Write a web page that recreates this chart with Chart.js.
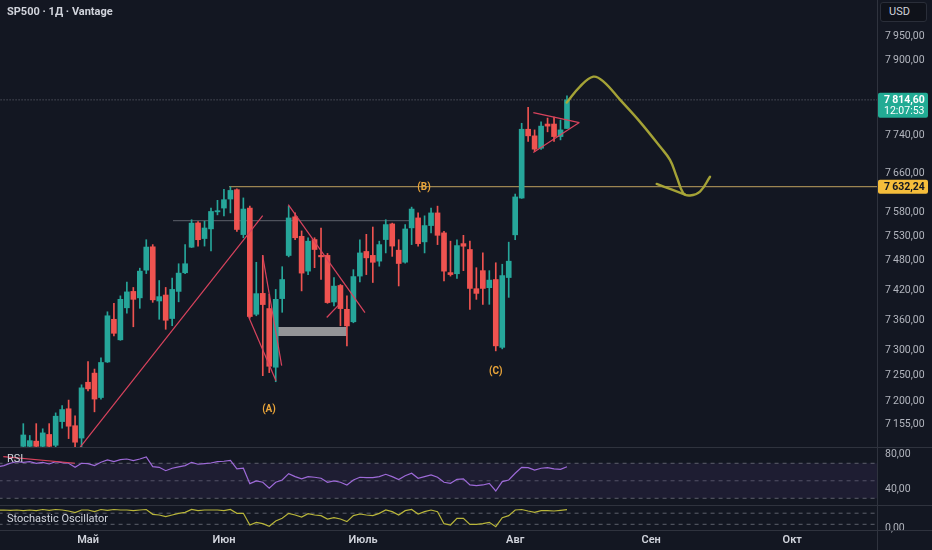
<!DOCTYPE html>
<html><head><meta charset="utf-8">
<script src="https://cdn.jsdelivr.net/npm/chart.js@4.4.1/dist/chart.umd.min.js"></script>
<style>
html,body{margin:0;padding:0;background:#131722;}
body{width:932px;height:550px;position:relative;overflow:hidden;font-family:Roboto,"Noto Sans",sans-serif;}
canvas{position:absolute;left:0;}
.lbl{position:absolute;color:#d1d4dc;font-size:11px;white-space:nowrap;line-height:13px;}
#usd{position:absolute;left:880px;top:2px;width:47px;height:20px;border:1px solid #2a2e39;border-radius:3px;background:#0f121a;color:#d1d4dc;font-size:11px;line-height:18px;box-sizing:border-box;padding-left:8px;}
</style></head>
<body>
<canvas id="cPrice" width="932" height="447" style="top:0"></canvas>
<canvas id="cRsi" width="932" height="58" style="top:447px"></canvas>
<canvas id="cStoch" width="932" height="45" style="top:505px"></canvas>
<div class="lbl" style="left:7px;top:5px;font-weight:700;">SP500 · 1Д · Vantage</div>
<div class="lbl" style="left:7px;top:452px;">RSI</div>
<div class="lbl" style="left:7px;top:512px;">Stochastic Oscillator</div>
<div id="usd">USD</div>
<script>
// ---------------- DATA ----------------
const opens = [7112,7112,7122,7112,7135,7114,7160,7185,7152,7128,
  7237,7255,7207,7277,7362,7321,7385,7418,7405,7461,
  7508.5,7398.7,7410.7,7363.5,7418,7455.7,7507.7,7557.4,7525.4,7545.2,
  7580.2,7588,7606.7,7626,7533.5,7588,7372,7414,7383.5,7266.6,
  7403.5,7490.8,7570,7530,7459,7523.3,7491,7491,7396.7,7430,
  7382,7357,7449,7499,7491,7479.3,7523.3,7555.4,7501.6,7477.2,
  7547.3,7567.7,7518.6,7552,7578,7537,7456,7453.7,7515,7503,
  7423.5,7460,7425.5,7442,7306,7446,7533,7608.7,7752.4,7738.5,
  7712.5,7763.4,7763.4,7737,7754];
const highs = [7156,7133,7156,7146,7156,7177,7191,7202,7171,7232,
  7278,7263,7285,7377,7394,7409,7437,7426,7465,7523,
  7513,7440,7426,7445,7474,7513,7564,7560,7561,7588,
  7604,7627,7632,7628,7609,7592,7477,7491,7412,7422,
  7468,7592,7578,7541,7527,7527,7547,7495,7446,7432,
  7409,7462,7523,7534,7549,7520,7564,7557,7523,7554,
  7590,7578,7572,7588,7592,7540,7520,7523,7532,7520,
  7466,7496,7460,7476,7473,7518,7617,7765,7799,7751,
  7768,7776,7778,7772,7823];
const lows = [7108,7108,7108,7108,7108,7110,7147,7127,7110,7110,
  7220,7179,7204,7276,7329,7320,7374,7347,7384,7454,
  7396,7362,7342,7349,7397,7454,7507,7510,7510,7500,
  7574,7572,7578,7540,7527,7364,7369,7250,7256,7238,
  7376,7488,7523,7419,7452,7466,7442,7394,7389,7349,
  7309,7355,7437,7452,7436,7469,7496,7489,7429,7475,
  7513,7510,7496,7537,7513,7439,7449,7444,7460,7382,
  7402,7392,7392,7299,7303,7406,7523,7608,7727,7706,
  7710,7747,7727,7730,7754];
const closes = [7134,7123,7112,7138,7112,7170.5,7183.5,7151,7120,7226,
  7224,7204,7276,7369,7334,7402,7417,7402,7459,7508,
  7401,7407.5,7360,7422,7455,7474,7557,7523,7547,7581,
  7582.6,7605.3,7624.5,7544,7586,7367.5,7413.5,7391.5,7268.5,7402,
  7442,7567.7,7527,7455,7520,7503,7488,7395.5,7428.7,7383.4,
  7348.7,7448,7496,7486,7477,7513,7554,7510,7474.5,7545,
  7586,7515,7552,7578,7532,7459,7452,7511,7509.7,7424,
  7414,7424,7440.8,7309,7450,7479.2,7611,7752.4,7738.5,7710.5,
  7759,7759,7737,7751,7814.6];

const lastPrice = 7814.60;
const lastTime = '12:07:53';
const levelPrice = 7632.24;
const levelStart = 31.8;
const greyLevel = 7562; const greyFrom = 23.13; const greyTo = 59.75;

const priceTicks = [7155,7200,7250,7300,7360,7420,7480,7530,7580,7660,7740,7900,7950];

// indicator series start at bar index -4
const indStart = -4;
const rsi = [66.0,67.3,70.0,71.9,
  71.1,71.9,70.0,71.1,69.2,71.9,70.7,70.0,65.4,70.0,
  69.6,67.3,71.1,73.8,71.9,74.1,74.9,73.0,74.9,77.2,
  66.1,65.4,61.5,64.3,65.8,67.3,71.1,68.9,69.6,70.3,
  71.9,72.3,73.4,63.5,64.3,46.7,49.8,48.3,41.4,48.3,
  50.9,58.1,54.7,52.1,54.7,54.0,52.9,48.3,49.8,48.3,
  45.2,50.9,54.0,53.6,53.6,54.7,57.4,54.7,51.3,55.8,
  58.6,52.9,54.7,56.6,54.0,48.3,47.1,51.7,52.1,45.2,
  44.4,45.2,47.1,38.3,49.0,50.9,58.6,65.4,65.0,62.3,
  64.3,65.0,63.5,63.1,66.1];
const stoch = [97.0,97.3,95.5,97.3,
  93.7,97.3,93.7,100,95.5,100,97.3,91.9,82.9,97.3,
  97.3,88.3,100,95.5,100,97.3,97.3,93.7,97.3,100,
  73.9,70.3,61.3,70.3,79.3,84.7,100,93.7,97.3,97.3,
  97.3,93.7,100,79.3,79.3,16.2,30.6,23.4,9.0,37.8,
  52.3,79.3,70.3,59.5,77.5,70.3,66.7,48.6,55.9,48.6,
  34.2,66.7,75.7,70.3,66.7,79.3,97.3,88.3,70.3,93.7,
  100,75.7,88.3,97.3,88.3,23.4,16.2,52.3,52.3,19.8,
  19.8,23.4,30.6,7.2,55.9,66.7,97.3,100,91.9,84.7,
  93.7,93.7,91.9,95.5,99.1];
const rsiTicks = [80,40];
const rsiLevels = [70,50,30];
const stochTicks = [0];
const stochLevels = [80,20];

const monthNames = ['Май','Июн','Июль','Авг','Сен','Окт'];
const monthPos = [10,31,52.5,76,97,118.8];

// drawings (bar index, price)
const trendUp = [[8.45,7105],[36.99,7572.4]];
const wedgeA = [[34.76,7368.7],[39.04,7240]];
const wedgeB = [[36.99,7489.4],[39.92,7269.8]];
const descLine = [[40.94,7595],[52.79,7375.5]];
const shortLine = [[46.88,7365.5],[48.67,7390]];
const boxRange = [[39.24,7337.7],[49.97,7337.7]];
const triUpper = [[78.80,7787.7],[85.90,7766.5]];
const triLower = [[78.80,7703.4],[85.90,7766.5]];
const curveMain = [[83.96,7809],[86.01,7843],[88.07,7864],[89.61,7854],[92.19,7815],[95.28,7768],[98.37,7716],[99.92,7688],[100.95,7653],[101.97,7619],[103.01,7614],[104.55,7622],[106.10,7653]];
const curveTail = [[97.86,7638],[100.23,7626],[102.23,7616]];
const waveLabels = ['(A)','(B)','(C)'];
const waveX = [37.96,61.91,72.99];
const waveY = [7182.8,7630,7259];
const rsiTrend = [[-3.09,77.5],[7.99,70.0]];

// ---------------- HELPERS ----------------
const X_MIN = -3.6, X_MAX = 131.9;
const UP = '#26a69a', DOWN = '#ef5350';
const FONT = 'Roboto, "Noto Sans", sans-serif';
function fmt(v){
  const s = Number(v).toFixed(2).split('.');
  let int = s[0];
  if (int.length > 3) int = int.slice(0, int.length-3) + '\u2009' + int.slice(-3);
  return int + ',' + s[1];
}
const pts = arr => arr.map(p => ({x:p[0], y:p[1]}));
function lineDs(arr, color, width, extra){
  return Object.assign({type:'line', data:pts(arr), borderColor:color, borderWidth:width,
    pointRadius:0, fill:false, tension:0, order:-1}, extra||{});
}
const idx = opens.map((_, k) => k);
const candleColors = idx.map(k => closes[k] >= opens[k] ? UP : DOWN);
Chart.defaults.animation = false;
Chart.defaults.font.family = FONT;

function yAxisCommon(){
  return {position:'right', grid:{display:false, drawTicks:false}, border:{display:false},
    afterFit: s => { s.width = 55; s.paddingTop = 0; s.paddingBottom = 0; },
    ticks:{color:'#b2b5be', padding:8, font:{size:10.5}, autoSkip:false, callback: v => fmt(v)}};
}
const sepPlugin = {
  id:'sep',
  afterDraw(chart, args, opts){
    const c = chart.ctx;
    c.save();
    c.strokeStyle = '#2f333e'; c.lineWidth = 1;
    c.beginPath();
    c.moveTo(877.5, 0); c.lineTo(877.5, chart.height);
    if (opts.top){ c.moveTo(0, 0.5); c.lineTo(chart.width, 0.5); }
    if (opts.bottom){ const b = Math.round(chart.chartArea.bottom)+0.5; c.moveTo(0, b); c.lineTo(chart.width, b); }
    c.stroke(); c.restore();
  }
};

// ---------------- PRICE CHART ----------------
const priceOverlay = {
  id:'priceOverlay',
  afterDraw(chart){
    const c = chart.ctx, x = chart.scales.x, y = chart.scales.y;
    c.save();
    c.font = '700 10px ' + FONT; c.fillStyle = '#eaa53a';
    c.textAlign = 'center'; c.textBaseline = 'middle';
    waveLabels.forEach((t,k) => c.fillText(t, x.getPixelForValue(waveX[k]), y.getPixelForValue(waveY[k])));
    // last price box
    const yl = y.getPixelForValue(lastPrice);
    c.fillStyle = '#22ab94';
    c.beginPath(); c.roundRect(878, yl-7, 50, 25, 2); c.fill();
    c.fillStyle = '#ffffff'; c.textAlign = 'left';
    c.font = '700 10.5px ' + FONT; c.fillText(fmt(lastPrice), 884, yl+0.5);
    c.font = '400 10.5px ' + FONT; c.fillText(lastTime, 884, yl+11.5);
    // level box
    const yv = y.getPixelForValue(levelPrice);
    c.fillStyle = '#f5bd3b';
    c.beginPath(); c.roundRect(878, yv-7, 50, 14, 2); c.fill();
    c.fillStyle = '#131722'; c.font = '700 10.5px ' + FONT;
    c.fillText(fmt(levelPrice), 884, yv+0.5);
    c.restore();
  }
};

new Chart(document.getElementById('cPrice'), {
  type:'bar',
  data:{datasets:[
    {data: idx.map(k => ({x:k, y:[opens[k], closes[k]]})), backgroundColor:candleColors,
     barThickness:5, grouped:false, order:1, minBarLength:1},
    {data: idx.map(k => ({x:k, y:[lows[k], highs[k]]})), backgroundColor:candleColors,
     barThickness:1, grouped:false, order:2},
    lineDs([[-10,lastPrice],[140,lastPrice]], '#6a6d78', 1, {borderDash:[1,2], order:5}),
    lineDs([[levelStart,levelPrice],[140,levelPrice]], '#9c8552', 1.2, {order:5}),
    lineDs([[greyFrom,greyLevel],[greyTo,greyLevel]], '#5d606b', 1, {order:5}),
    lineDs(boxRange, 'rgba(170,170,172,0.85)', 9, {order:4, borderCapStyle:'butt'}),
    lineDs(trendUp, '#d9435d', 1.2),
    lineDs(wedgeA, '#d9435d', 1.2),
    lineDs(wedgeB, '#d9435d', 1.2),
    lineDs(descLine, '#d9435d', 1.2),
    lineDs(shortLine, '#d9435d', 1.2),
    lineDs(triUpper, '#d9435d', 1.2),
    lineDs(triLower, '#d9435d', 1.2),
    lineDs(curveMain, 'rgba(172,170,56,0.95)', 2.4, {tension:0.4, borderCapStyle:'round', borderJoinStyle:'round', order:-2}),
    lineDs(curveTail, 'rgba(172,170,56,0.95)', 2.4, {tension:0.4, borderCapStyle:'round', order:-2})
  ]},
  options:{
    responsive:false, layout:{padding:0},
    plugins:{legend:{display:false}, tooltip:{enabled:false}, sep:{top:false}},
    scales:{
      x:{type:'linear', min:X_MIN, max:X_MAX, display:false, offset:false},
      y:Object.assign(yAxisCommon(), {type:'logarithmic', min:7110.7, max:8029.7,
        afterBuildTicks: s => { s.ticks = priceTicks.map(v => ({value:v})); }})
    }
  },
  plugins:[sepPlugin, priceOverlay]
});

// ---------------- RSI CHART ----------------
const indX = rsi.map((_, k) => indStart + k);
function levelDs(v, color, fillTarget, bg){
  return {type:'line', data:[{x:-10,y:v},{x:140,y:v}], borderColor:color, borderWidth:1,
    borderDash:[4,4], pointRadius:0, fill:fillTarget||false, backgroundColor:bg||'transparent', order:5};
}
new Chart(document.getElementById('cRsi'), {
  type:'line',
  data:{datasets:[
    levelDs(rsiLevels[0], '#5d606b'),
    levelDs(rsiLevels[2], '#5d606b', '-1', 'rgba(126,87,194,0.10)'),
    levelDs(rsiLevels[1], '#4f525c'),
    {data: indX.map((xv,k) => ({x:xv, y:rsi[k]})), borderColor:'#9e6ad8', borderWidth:1.2, pointRadius:0, order:1},
    lineDs(rsiTrend, '#d9435d', 1.2)
  ]},
  options:{
    responsive:false, layout:{padding:0},
    plugins:{legend:{display:false}, tooltip:{enabled:false}, sep:{top:true}},
    scales:{
      x:{type:'linear', min:X_MIN, max:X_MAX, display:false},
      y:Object.assign(yAxisCommon(), {type:'linear', min:22.3, max:88.6,
        afterBuildTicks: s => { s.ticks = rsiTicks.map(v => ({value:v})); }})
    }
  },
  plugins:[sepPlugin]
});

// ---------------- STOCH CHART ----------------
new Chart(document.getElementById('cStoch'), {
  type:'line',
  data:{datasets:[
    levelDs(stochLevels[0], '#5d606b'),
    levelDs(stochLevels[1], '#5d606b'),
    {data: indX.map((xv,k) => ({x:xv, y:stoch[k]})), borderColor:'#b8b53a', borderWidth:1.2, pointRadius:0, order:1}
  ]},
  options:{
    responsive:false, layout:{padding:0},
    plugins:{legend:{display:false}, tooltip:{enabled:false}, sep:{top:true, bottom:true}},
    scales:{
      x:{type:'linear', min:X_MIN, max:X_MAX, grid:{display:false, drawTicks:false}, border:{display:false},
        afterFit: s => { s.height = 20; s.paddingLeft = 0; s.paddingRight = 0; },
        afterBuildTicks: s => { s.ticks = monthPos.map(v => ({value:v})); },
        ticks:{color:'#d1d4dc', padding:4, autoSkip:false, maxRotation:0, font:{size:11, weight:'600'},
          callback: (v, i) => monthNames[i]}},
      y:Object.assign(yAxisCommon(), {type:'linear', min:-10.8, max:124.3,
        afterBuildTicks: s => { s.ticks = stochTicks.map(v => ({value:v})); }})
    }
  },
  plugins:[sepPlugin]
});
</script>
</body></html>
